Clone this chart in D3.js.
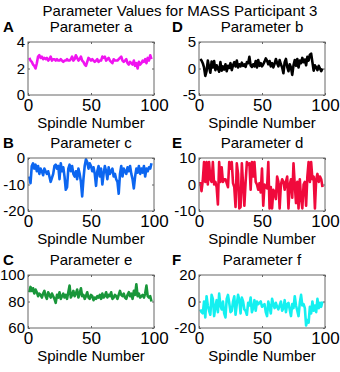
<!DOCTYPE html>
<html>
<head>
<meta charset="utf-8">
<script src="https://cdn.jsdelivr.net/npm/d3@7"></script>
<style>
    body { margin: 0; background: #fff; }
    text { font-family: "Liberation Sans", Arial, sans-serif; fill: #000; }
</style>
</head>
<body>
<svg id="parameter-chart"></svg>
<script>
/*--------------------------------------------------------------------------------
----- SMALL MULTIPLES (parameter values per spindle for MASS participant 3)
--------------------------------------------------------------------------------*/

// Spindle numbers shared by every panel
const spindle_numbers = d3.range(1, 99);

// Parameter values, one array per panel
const param_a = [2.8, 2.6, 2.5, 2.3, 2.2, 2.0, 2.4, 2.9, 3.0, 2.8,
    2.9, 2.7, 2.8, 2.7, 2.8, 2.6, 2.7, 2.9, 2.6, 2.7,
    2.7, 2.6, 2.7, 2.6, 2.6, 2.7, 2.6, 2.5, 2.6, 2.6,
    2.7, 2.6, 2.6, 2.7, 2.9, 2.6, 2.7, 3.0, 2.8, 2.6,
    2.7, 2.9, 2.6, 2.5, 2.3, 2.2, 2.5, 2.8, 2.7, 2.6,
    2.7, 2.6, 2.5, 2.6, 2.7, 2.5, 2.6, 2.6, 2.9, 2.8,
    2.9, 2.6, 2.7, 2.8, 2.6, 2.5, 2.4, 2.7, 2.6, 2.6,
    2.6, 2.7, 2.8, 2.9, 2.6, 2.5, 2.6, 2.7, 2.4, 2.3,
    2.5, 2.4, 2.3, 2.6, 2.2, 2.4, 2.0, 2.5, 2.3, 2.4,
    2.6, 2.5, 2.7, 2.4, 2.8, 2.6, 3.0, 2.7];
const param_b = [1.8, 1.5, 1.0, 0.2, -1.4, -0.5, 1.5, 0.3, -0.8, 1.3,
    0.2, 1.4, -0.3, 0.6, 0.0, -0.6, 1.2, -0.4, 0.4, -0.2,
    0.8, -0.5, 0.5, 0.1, 1.0, -0.3, 0.6, 1.2, 0.4, 1.5,
    0.2, 0.8, 0.4, 1.1, 0.5, 0.8, 0.3, 1.2, 1.0, 2.2,
    0.6, 0.3, 0.8, 0.4, 1.4, 0.2, 1.6, 0.5, 1.0, 0.4,
    0.8, 1.3, 1.9, 1.5, 0.8, 1.4, 0.4, 1.0, 0.2, 0.9,
    1.8, 1.0, 0.4, 1.6, 0.8, 0.2, -0.9, 1.2, 1.8, 0.3,
    -0.5, 0.8, 0.2, -1.2, 0.6, 1.6, 0.5, 1.8, 0.2, 1.5,
    1.0, 2.0, 1.2, 1.7, 0.6, 2.2, 1.5, 2.6, 2.8, 1.2,
    -0.4, 0.6, 0.2, -0.3, 0.5, 0.0, -0.5, 0.0];
const param_c = [-7, -9.5, -3, -2, -4, -2.5, -5, -3, -6, -4,
    -5, -6.5, -4, -5, -6, -5, -7, -9, -7.5, -6,
    -3, -2.5, -4, -3, -8, -2, -5, -3.5, -7, -12,
    -11, -4, -2.5, -5, -3, -6, -7, -5, -8, -4,
    -6, -9, -14.5, -8, -3, -0.5, -1.5, -4, -2, -3,
    -5, -3.5, -6, -10.5, -5, -3, -7, -4, -10, -6,
    -3, -5, -8, -3.5, -6, -5, -4, -7, -6, -8,
    -9, -13.5, -6, -3, -7, -4, -5, -6, -3.5, -5,
    -3, -6, -8, -11.5, -7, -4, -5.5, -3, -6, -4,
    -5.5, -3, -7, -4, -5, -3.5, -4, -2];
const param_d = [1, -2.5, 1.5, 8.5, 1, 8.5, 0, 8.5, 2, 1,
    8.5, 0, 1, -1, -7.5, 8.5, 1, 6.5, 1, 2,
    2, 0.5, -1, 8.5, 6, 8.5, 0.5, -1, -8.5, 8,
    4, -9, -8.5, 8, 0, -8, 1, 8.5, 7.5, 8,
    -2, 8.5, 3, 8.5, 1, 0, -2, 0.5, -3, 6,
    -8, 0, -1, -1.5, 8.5, -9, -1, -9, -2, -3,
    -5.5, 3, 1, -9, 0, 2, 1, -2, 1, 3,
    -9, 0, 2, -5, 8, 0, -7, 1, -9, 2,
    -5, -9, 0, 1, -8, 3, 8.5, 1, 8.5, 2,
    3, -9, 2, 4, 1, 3, 2, -1];
const param_e = [87, 91, 88, 90, 86, 89, 87, 84, 86, 85,
    83, 86, 88, 84, 82, 87, 85, 83, 86, 84,
    82, 79, 85, 83, 87, 82, 84, 86, 83, 85,
    82, 87, 92, 83, 85, 88, 84, 86, 89, 83,
    86, 90, 84, 85, 82, 84, 87, 83, 82, 85,
    84, 81, 83, 82, 84, 83, 85, 82, 86, 83,
    84, 87, 83, 85, 84, 87, 82, 83, 85, 84,
    82, 85, 88, 85, 84, 86, 83, 82, 85, 87,
    84, 86, 82, 88, 85, 93, 84, 86, 83, 84,
    85, 83, 86, 92, 84, 83, 84, 80];
const param_f = [-6, -8, -9, 0, -12, 4, -3, -7, -10, 5,
    2, -11, -4, 1, -8, 6, -3, -6, 0, -9,
    -12, 2, 5, -1, -8, -7, 0, 4, -10, -2,
    5, 1, -9, 3, 0, -6, -7, -10, -1, -3,
    3, -8, -5, 1, -7, 0, -2, -1, 0, -4,
    -3, -2, -8, -11, 0, -4, -9, 2, -2, -5,
    -1, -4, -6, -3, 0, -7, -5, 1, -8, -2,
    -1, -6, -11, -2, -5, 4, -3, -7, -11, -1,
    5, -3, -2, -5, -18, -14, -16, -4, -9, 0,
    -7, -3, -8, 2, -5, -1, -4, 0];

// Panel letters, titles, y-axis tick values and line colours
const panel_letters = ["A", "D", "B", "E", "C", "F"];
const panel_titles = ["Parameter a", "Parameter b", "Parameter c", "Parameter d", "Parameter e", "Parameter f"];
const panel_values = [param_a, param_b, param_c, param_d, param_e, param_f];
const panel_y_ticks = [[0, 2, 4], [-5, 0, 5], [-20, -10, 0], [-10, 0, 10], [60, 80, 100], [-20, 0, 20]];
const panel_colors = ["#f014f0", "#000000", "#0c66f0", "#f00a3c", "#19963a", "#14f0f0"];
const x_ticks = [0, 50, 100];

// Figure dimensions and panel placement
const chart_width = 340, chart_height = 372;
const panel_lefts = [28, 199];
const letter_lefts = [3, 172];
const panel_tops = [42, 158, 275];
const panel_width = 126, panel_height = 53;

// Plain hyphen for negative tick labels, like the original figure
const tick_format = d => String(d);

const svg = d3.select("#parameter-chart")
    .attr("width", chart_width)
    .attr("height", chart_height);

// Figure title
svg.append("text")
    .attr("x", 180)
    .attr("y", 16)
    .attr("text-anchor", "middle")
    .style("font-size", "15px")
    .text("Parameter Values for MASS Participant 3");

// Draw every panel
panel_values.forEach((values, i) => {
    const left = panel_lefts[i % 2];
    const top = panel_tops[Math.floor(i / 2)];
    const y_ticks = panel_y_ticks[i];

    // Scales for this panel
    const x_scale = d3.scaleLinear().domain([0, 100]).range([0, panel_width]);
    const y_scale = d3.scaleLinear()
        .domain([y_ticks[0], y_ticks[y_ticks.length - 1]])
        .range([panel_height, 0]);

    const panel = svg.append("g")
        .attr("transform", `translate(${left},${top})`);

    // Line of the parameter values
    const line = d3.line()
        .x((d, j) => x_scale(spindle_numbers[j]))
        .y(d => y_scale(d));
    panel.append("path")
        .datum(values)
        .attr("fill", "none")
        .attr("stroke", panel_colors[i])
        .attr("stroke-width", 2.6)
        .attr("stroke-linejoin", "round")
        .attr("d", line);

    // Bottom axis with labels, ticks pointing inside
    panel.append("g")
        .attr("transform", `translate(0,${panel_height})`)
        .call(d3.axisBottom(x_scale).tickValues(x_ticks).tickSize(-2).tickPadding(4).tickFormat(tick_format))
        .call(g => g.select(".domain").remove())
        .call(g => g.selectAll("line").attr("stroke", "#666"))
        .call(g => g.selectAll("text").style("font-size", "17px").attr("font-family", null));

    // Left axis with labels
    panel.append("g")
        .call(d3.axisLeft(y_scale).tickValues(y_ticks).tickSize(-2).tickPadding(3).tickFormat(tick_format))
        .call(g => g.select(".domain").remove())
        .call(g => g.selectAll("line").attr("stroke", "#666"))
        .call(g => g.selectAll("text").style("font-size", "15px").attr("font-family", null));

    // Top and right axes, ticks only
    panel.append("g")
        .call(d3.axisTop(x_scale).tickValues(x_ticks).tickSize(-2).tickFormat(""))
        .call(g => g.select(".domain").remove())
        .call(g => g.selectAll("line").attr("stroke", "#666"));
    panel.append("g")
        .attr("transform", `translate(${panel_width},0)`)
        .call(d3.axisRight(y_scale).tickValues(y_ticks).tickSize(-2).tickFormat(""))
        .call(g => g.select(".domain").remove())
        .call(g => g.selectAll("line").attr("stroke", "#666"));

    // Panel frame
    panel.append("rect")
        .attr("width", panel_width)
        .attr("height", panel_height)
        .attr("fill", "none")
        .attr("stroke", "#666")
        .attr("stroke-width", 1);

    // Panel title and letter
    panel.append("text")
        .attr("x", panel_width / 2)
        .attr("y", -10)
        .attr("text-anchor", "middle")
        .style("font-size", "15px")
        .text(panel_titles[i]);
    panel.append("text")
        .attr("x", letter_lefts[i % 2] - left)
        .attr("y", -10)
        .style("font-size", "15px")
        .style("font-weight", "bold")
        .text(panel_letters[i]);

    // X-axis label
    panel.append("text")
        .attr("x", panel_width / 2)
        .attr("y", panel_height + 33)
        .attr("text-anchor", "middle")
        .style("font-size", "15px")
        .text("Spindle Number");
});
</script>
</body>
</html>
